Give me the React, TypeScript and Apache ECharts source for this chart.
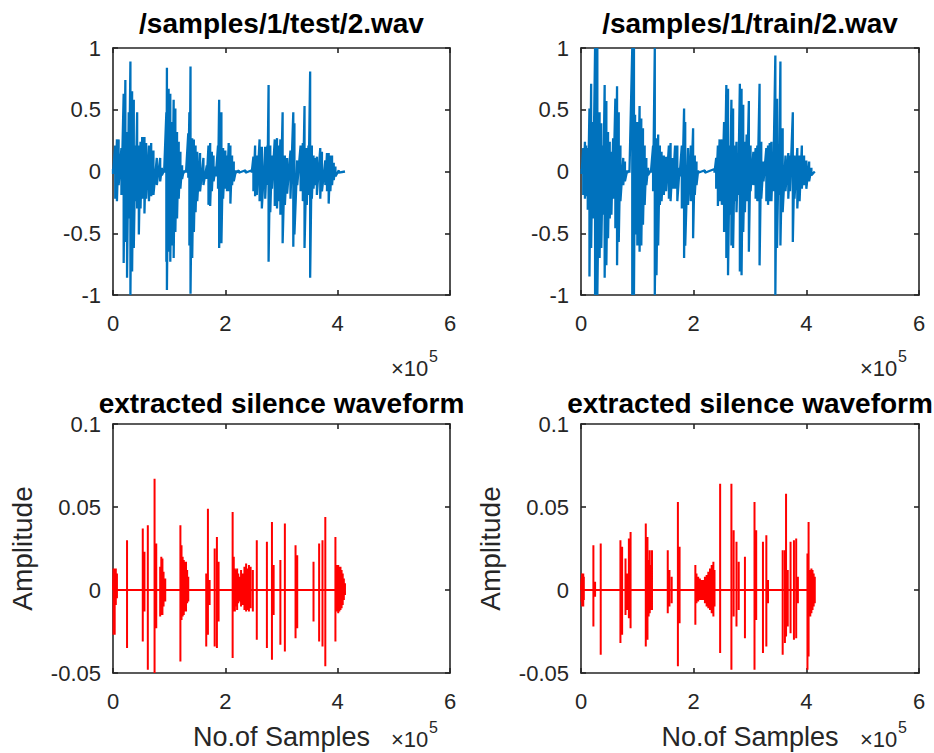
import React, { useEffect, useRef } from "react";
import * as echarts from "echarts";

// ---------- data (x in units of 1e5 samples) ----------
const testX = [0.00,0.04,0.07,0.10,0.15,0.19,0.22,0.25,0.28,0.31,0.34,0.37,0.40,0.43,0.46,0.49,0.52,0.56,0.59,0.64,0.68,0.72,0.78,0.84,0.87,0.91,0.95,0.96,0.99,1.02,1.05,1.08,1.11,1.14,1.17,1.20,1.23,1.26,1.30,1.34,1.36,1.38,1.41,1.44,1.47,1.50,1.55,1.61,1.67,1.70,1.73,1.76,1.79,1.83,1.87,1.89,1.93,1.96,2.00,2.03,2.06,2.09,2.12,2.15,2.19,2.24,2.36,2.47,2.50,2.53,2.56,2.61,2.65,2.71,2.75,2.77,2.80,2.83,2.88,2.92,2.95,2.98,3.02,3.06,3.10,3.16,3.21,3.23,3.28,3.34,3.38,3.41,3.45,3.48,3.51,3.54,3.57,3.60,3.63,3.69,3.72,3.78,3.81,3.84,3.87,3.90,3.93,3.96,4.02,4.13];
const testHi = [0.02,0.21,0.26,0.26,0.19,0.63,0.74,0.32,0.48,0.89,0.65,0.58,0.21,0.48,0.21,0.24,0.28,0.28,0.23,0.21,0.23,0.17,0.11,0.11,0.03,0.01,0.48,0.84,0.67,0.63,0.40,0.58,0.51,0.32,0.24,0.16,0.05,0.01,0.01,0.31,0.48,0.85,0.27,0.26,0.21,0.16,0.15,0.11,0.05,0.21,0.23,0.16,0.13,0.04,0.21,0.58,0.48,0.19,0.17,0.13,0.23,0.21,0.13,0.08,0.01,0.01,0.01,0.01,0.12,0.21,0.13,0.26,0.20,0.20,0.21,0.70,0.21,0.13,0.26,0.27,0.21,0.26,0.48,0.13,0.11,0.17,0.48,0.39,0.09,0.21,0.23,0.53,0.19,0.21,0.81,0.21,0.13,0.11,0.12,0.19,0.16,0.09,0.15,0.15,0.13,0.13,0.07,0.04,0.01,0.00];
const testLo = [-0.02,-0.22,-0.24,-0.11,-0.19,-0.74,-0.57,-0.86,-0.38,-1.00,-0.81,-0.62,-0.24,-0.30,-0.51,-0.30,-0.22,-0.34,-0.22,-0.24,-0.20,-0.19,-0.11,-0.08,-0.03,-0.01,-0.73,-0.96,-0.65,-0.73,-0.60,-0.70,-0.49,-0.38,-0.22,-0.14,-0.06,-0.01,-0.01,-0.05,-0.60,-0.99,-0.70,-0.49,-0.33,-0.24,-0.16,-0.11,-0.06,-0.27,-0.28,-0.16,-0.08,-0.04,-0.14,-0.62,-0.58,-0.22,-0.14,-0.16,-0.16,-0.26,-0.11,-0.08,-0.01,-0.01,-0.01,-0.01,-0.16,-0.20,-0.19,-0.24,-0.30,-0.22,-0.11,-0.73,-0.33,-0.14,-0.28,-0.30,-0.24,-0.35,-0.58,-0.27,-0.18,-0.22,-0.61,-0.51,-0.11,-0.16,-0.24,-0.62,-0.27,-0.19,-0.86,-0.22,-0.14,-0.11,-0.19,-0.22,-0.16,-0.11,-0.16,-0.26,-0.16,-0.11,-0.07,-0.04,-0.01,0.00];

const trainX = [0.01,0.04,0.07,0.09,0.12,0.15,0.18,0.21,0.25,0.27,0.29,0.33,0.36,0.39,0.42,0.45,0.48,0.51,0.54,0.57,0.61,0.64,0.67,0.70,0.75,0.78,0.82,0.86,0.91,0.93,0.94,0.96,1.00,1.04,1.07,1.10,1.13,1.16,1.19,1.24,1.28,1.31,1.34,1.37,1.40,1.43,1.47,1.51,1.56,1.59,1.63,1.67,1.71,1.75,1.79,1.83,1.85,1.90,1.95,1.99,2.02,2.05,2.08,2.20,2.37,2.40,2.43,2.46,2.50,2.54,2.58,2.61,2.64,2.67,2.70,2.73,2.76,2.79,2.82,2.85,2.88,2.91,2.94,2.98,3.01,3.06,3.10,3.13,3.17,3.20,3.24,3.29,3.32,3.35,3.38,3.41,3.45,3.48,3.51,3.54,3.58,3.63,3.68,3.71,3.76,3.79,3.84,3.88,3.92,3.96,4.00,4.05,4.09,4.15];
const trainHi = [0.02,0.19,0.24,0.21,0.19,0.51,0.71,0.40,1.00,0.60,1.00,0.48,0.39,0.21,0.70,0.57,0.32,0.24,0.16,0.27,0.59,0.69,0.48,0.21,0.11,0.08,0.01,0.01,1.00,0.55,1.00,0.46,0.40,0.53,0.43,0.35,0.21,0.11,0.03,0.01,0.21,1.00,0.27,0.30,0.21,0.16,0.13,0.12,0.21,0.23,0.11,0.21,0.21,0.03,0.21,0.51,0.40,0.19,0.21,0.35,0.13,0.08,0.01,0.01,0.02,0.11,0.21,0.26,0.26,0.40,0.70,0.67,0.21,0.58,0.51,0.21,0.24,0.13,0.71,0.67,0.54,0.24,0.30,0.57,0.21,0.16,0.19,0.21,0.71,0.24,0.08,0.19,0.21,0.23,0.24,0.16,0.94,0.59,0.21,0.89,0.35,0.13,0.15,0.13,0.48,0.13,0.19,0.13,0.21,0.13,0.09,0.08,0.03,0.00];
const trainLo = [-0.02,-0.19,-0.22,-0.20,-0.31,-0.85,-0.62,-0.38,-1.00,-0.70,-1.00,-0.70,-0.62,-0.35,-0.86,-0.76,-0.54,-0.38,-0.35,-0.22,-0.46,-0.76,-0.57,-0.24,-0.11,-0.08,-0.01,-0.01,-1.00,-0.70,-1.00,-0.51,-0.60,-0.65,-0.60,-0.43,-0.27,-0.11,-0.03,-0.01,-0.16,-1.00,-0.84,-0.60,-0.27,-0.24,-0.19,-0.16,-0.22,-0.24,-0.14,-0.14,-0.24,-0.04,-0.30,-0.70,-0.60,-0.27,-0.24,-0.54,-0.19,-0.11,-0.01,-0.01,-0.01,-0.14,-0.28,-0.24,-0.27,-0.49,-0.70,-0.84,-0.35,-0.60,-0.62,-0.24,-0.33,-0.19,-0.81,-0.84,-0.49,-0.33,-0.24,-0.65,-0.16,-0.11,-0.22,-0.24,-0.76,-0.22,-0.08,-0.24,-0.27,-0.24,-0.24,-0.16,-1.00,-0.62,-0.19,-0.60,-0.33,-0.16,-0.22,-0.16,-0.57,-0.22,-0.30,-0.24,-0.14,-0.11,-0.14,-0.08,-0.03,0.00];

const silTestX = [0.01,0.03,0.05,0.07,0.25,0.53,0.56,0.62,0.74,0.77,0.84,0.86,0.88,0.90,0.93,1.20,1.22,1.24,1.26,1.28,1.30,1.32,1.34,1.66,1.69,1.72,1.81,1.85,1.88,2.13,2.15,2.17,2.19,2.21,2.23,2.25,2.28,2.31,2.34,2.37,2.39,2.42,2.45,2.49,2.56,2.74,2.83,2.86,2.98,3.06,3.25,3.28,3.57,3.67,3.73,3.78,3.96,3.99,4.01,4.03,4.05,4.07,4.09,4.11,4.13];
const silTestHi = [0.013,0.013,0.013,0.010,0.030,0.037,0.023,0.039,0.067,0.028,0.014,0.020,0.019,0.011,0.007,0.039,0.027,0.020,0.018,0.017,0.017,0.012,0.008,0.010,0.049,0.006,0.025,0.032,0.017,0.047,0.020,0.013,0.012,0.013,0.010,0.008,0.012,0.010,0.014,0.016,0.013,0.015,0.014,0.012,0.030,0.029,0.041,0.015,0.018,0.040,0.027,0.021,0.017,0.028,0.030,0.044,0.032,0.015,0.015,0.014,0.014,0.012,0.010,0.007,0.004];
const silTestLo = [-0.027,-0.027,-0.009,-0.005,-0.035,-0.031,-0.013,-0.048,-0.050,-0.023,-0.016,-0.015,-0.015,-0.010,-0.007,-0.043,-0.018,-0.016,-0.015,-0.013,-0.013,-0.008,-0.007,-0.034,-0.027,-0.009,-0.034,-0.035,-0.019,-0.041,-0.013,-0.013,-0.010,-0.012,-0.008,-0.007,-0.010,-0.009,-0.012,-0.013,-0.012,-0.013,-0.011,-0.013,-0.030,-0.035,-0.042,-0.015,-0.033,-0.037,-0.029,-0.023,-0.019,-0.031,-0.034,-0.046,-0.031,-0.013,-0.014,-0.013,-0.012,-0.011,-0.009,-0.006,-0.003];

const silTrainX = [0.01,0.02,0.04,0.05,0.22,0.25,0.35,0.70,0.73,0.79,0.82,0.85,0.88,1.15,1.18,1.20,1.22,1.24,1.26,1.54,1.57,1.61,1.72,1.75,2.03,2.05,2.08,2.11,2.14,2.17,2.20,2.23,2.26,2.29,2.32,2.35,2.37,2.47,2.67,2.71,2.76,2.80,2.91,3.08,3.11,3.23,3.29,3.32,3.58,3.62,3.64,3.67,3.72,3.78,3.82,3.85,4.02,4.04,4.07,4.09,4.11,4.13,4.15];
const silTrainHi = [0.007,0.010,0.010,0.008,0.027,0.005,0.028,0.030,0.026,0.019,0.010,0.031,0.035,0.040,0.032,0.018,0.024,0.015,0.024,0.024,0.012,0.008,0.053,0.026,0.015,0.010,0.008,0.007,0.006,0.006,0.008,0.009,0.011,0.013,0.015,0.017,0.012,0.064,0.064,0.036,0.029,0.017,0.020,0.053,0.036,0.029,0.033,0.006,0.024,0.024,0.058,0.012,0.029,0.030,0.031,0.008,0.022,0.041,0.012,0.013,0.012,0.010,0.008];
const silTrainLo = [-0.007,-0.010,-0.010,-0.006,-0.022,-0.004,-0.039,-0.032,-0.027,-0.015,-0.012,-0.017,-0.023,-0.034,-0.030,-0.016,-0.014,-0.012,-0.012,-0.014,-0.010,-0.008,-0.046,-0.020,-0.021,-0.008,-0.007,-0.006,-0.006,-0.006,-0.008,-0.010,-0.011,-0.012,-0.014,-0.016,-0.010,-0.038,-0.048,-0.016,-0.022,-0.012,-0.029,-0.048,-0.018,-0.038,-0.034,-0.008,-0.039,-0.032,-0.028,-0.022,-0.026,-0.030,-0.029,-0.008,-0.048,-0.040,-0.016,-0.014,-0.012,-0.010,-0.008];

const xTicks = [0, 2, 4, 6];
const waveTicks = [-1, -0.5, 0, 0.5, 1];
const silTicks = [-0.05, 0, 0.05, 0.1];
const titles = ["/samples/1/test/2.wav", "/samples/1/train/2.wav", "extracted silence waveform", "extracted silence waveform"];
const xLabel = "No.of Samples";
const yLabel = "Amplitude";

// ---------- helpers ----------
function zigzag(xs: number[], hi: number[], lo: number[]) {
  const d: number[][] = [];
  xs.forEach((x, i) => { d.push([x, hi[i]]); d.push([x, lo[i]]); });
  return d;
}
function spikes(xs: number[], hi: number[], lo: number[]) {
  const d: number[][] = [[0, 0]];
  xs.forEach((x, i) => { d.push([x, 0], [x, hi[i]], [x, lo[i]], [x, 0]); });
  return d;
}

const FONT = "'Liberation Sans', Arial, Helvetica, sans-serif";
const AX = "#262626";

export default function App() {
  const ref = useRef<HTMLDivElement>(null);
  useEffect(() => {
    const chart = echarts.init(ref.current!, null, { renderer: "svg" });
    const grids = [
      { left: 113, top: 48, width: 337, height: 247 },
      { left: 581, top: 48, width: 338, height: 247 },
      { left: 113, top: 424, width: 337, height: 249 },
      { left: 581, top: 424, width: 338, height: 249 },
    ];
    const fmt = (v: number) => String(+v.toFixed(2));
    const xAxis: any[] = [];
    const yAxis: any[] = [];
    grids.forEach((_, i) => {
      const ticks = i < 2 ? waveTicks : silTicks;
      const ymin = ticks[0];
      const ymax = ticks[ticks.length - 1];
      const yint = ticks[1] - ticks[0];
      const common = {
        type: "value", gridIndex: i, splitLine: { show: false },
        axisLine: { show: true, onZero: false, lineStyle: { color: AX, width: 1.6 } },
        axisTick: { show: true, inside: true, length: 5, lineStyle: { color: AX, width: 1.6 } },
      };
      xAxis.push({ ...common, position: "bottom", min: xTicks[0], max: xTicks[xTicks.length - 1], interval: xTicks[1] - xTicks[0],
        axisLabel: { show: true, color: AX, fontSize: 22, fontFamily: FONT, margin: 17, formatter: fmt } });
      xAxis.push({ ...common, position: "top", min: xTicks[0], max: xTicks[xTicks.length - 1], interval: xTicks[1] - xTicks[0],
        axisLabel: { show: false } });
      yAxis.push({ ...common, position: "left", min: ymin, max: ymax, interval: yint,
        axisLabel: { show: true, color: AX, fontSize: 22, fontFamily: FONT, margin: 12, formatter: fmt } });
      yAxis.push({ ...common, position: "right", min: ymin, max: ymax, interval: yint, axisLabel: { show: false } });
    });

    const mkSeries = (i: number, data: number[][], color: string, width: number) => ({
      type: "line", xAxisIndex: 2 * i, yAxisIndex: 2 * i, data, showSymbol: false, symbol: "none",
      lineStyle: { color, width }, clip: true, silent: true,
    });

    const centers = grids.map((g) => g.left + g.width / 2);
    const graphic: any[] = [];
    grids.forEach((g, i) => {
      graphic.push({ type: "text", x: centers[i], y: i < 2 ? 23 : 403,
        style: { text: titles[i], font: `bold 28px ${FONT}`, fill: "#000", align: "center", verticalAlign: "middle" } });
      const right = g.left + g.width;
      const ty = i < 2 ? 368 : 739;
      graphic.push({ type: "text", x: right - 59, y: ty,
        style: { text: "\u00d710", font: `22px ${FONT}`, fill: AX, align: "left", verticalAlign: "middle" } });
      graphic.push({ type: "text", x: right - 21, y: ty - 12,
        style: { text: "5", font: `16px ${FONT}`, fill: AX, align: "left", verticalAlign: "middle" } });
    });
    [2, 3].forEach((i) => {
      graphic.push({ type: "text", x: centers[i], y: 737,
        style: { text: xLabel, font: `27px ${FONT}`, fill: AX, align: "center", verticalAlign: "middle" } });
      graphic.push({ type: "text", x: grids[i].left - 91, y: grids[i].top + grids[i].height / 2, rotation: Math.PI / 2,
        style: { text: yLabel, font: `28px ${FONT}`, fill: AX, align: "center", verticalAlign: "middle" } });
    });

    chart.setOption({
      animation: false,
      backgroundColor: "#ffffff",
      grid: grids.map((g) => ({ ...g, containLabel: false })),
      xAxis, yAxis,
      series: [
        mkSeries(0, zigzag(testX, testHi, testLo), "#0072BD", 2.3),
        mkSeries(1, zigzag(trainX, trainHi, trainLo), "#0072BD", 2.3),
        mkSeries(2, spikes(silTestX, silTestHi, silTestLo), "#FF0000", 2),
        mkSeries(3, spikes(silTrainX, silTrainHi, silTrainLo), "#FF0000", 2),
      ],
      graphic,
    });
    return () => chart.dispose();
  }, []);
  return <div ref={ref} style={{ position: "absolute", left: 0, top: 0, width: 934, height: 753, background: "#fff" }} />;
}
